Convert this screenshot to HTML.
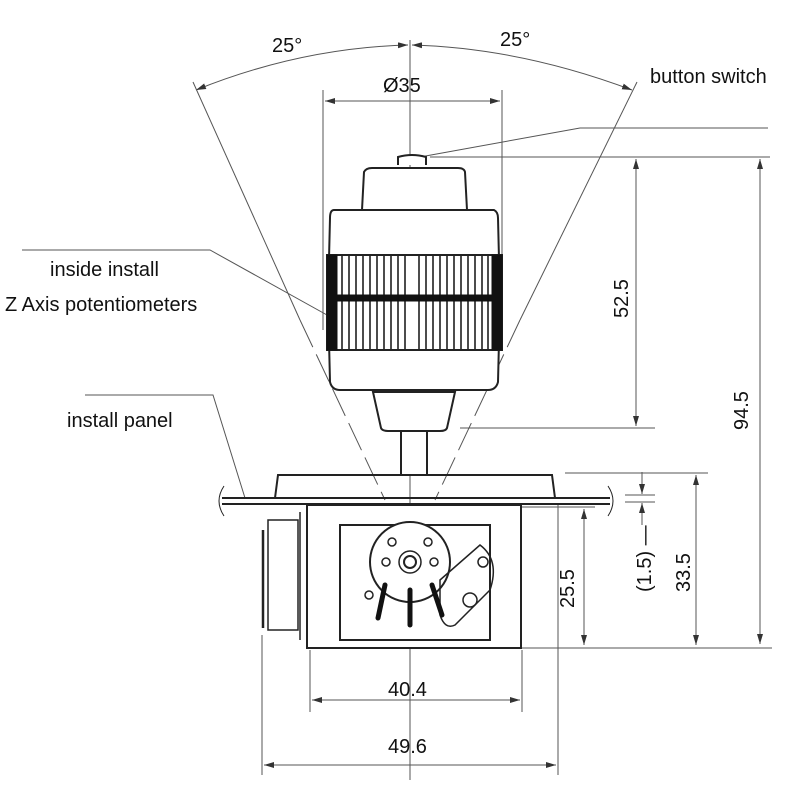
<!DOCTYPE html>
<html><head><style>body{margin:0;background:#fff}svg{display:block}</style></head><body>
<svg width="800" height="800" viewBox="0 0 800 800" xmlns="http://www.w3.org/2000/svg" font-family="Liberation Sans, sans-serif">
<defs>
<marker id="a" markerWidth="10" markerHeight="6" refX="10" refY="3" orient="auto-start-reverse" markerUnits="userSpaceOnUse"><path d="M0,0 L10,3 L0,6 z" fill="#333"/></marker>
</defs>
<g stroke="#555" stroke-width="1" fill="none">
<line x1="410" y1="40" x2="410" y2="780"/>
<path d="M196,90 Q300,48 408,45" marker-start="url(#a)" marker-end="url(#a)"/>
<path d="M412,45 Q520,48 632,90" marker-start="url(#a)" marker-end="url(#a)"/>
<line x1="193" y1="82" x2="300" y2="320"/>
<line x1="300" y1="320" x2="385" y2="500" stroke-dasharray="30,8"/>
<line x1="637" y1="82" x2="520" y2="320"/>
<line x1="520" y1="320" x2="435" y2="500" stroke-dasharray="30,8"/>
<line x1="323" y1="90" x2="323" y2="330"/>
<line x1="502" y1="90" x2="502" y2="330"/>
<line x1="325" y1="101" x2="500" y2="101" marker-start="url(#a)" marker-end="url(#a)"/>
<polyline points="420,157 580,128 768,128"/>
<line x1="430" y1="157" x2="770" y2="157"/>
<line x1="460" y1="428" x2="655" y2="428"/>
<line x1="636" y1="159" x2="636" y2="426" marker-start="url(#a)" marker-end="url(#a)"/>
<line x1="760" y1="159" x2="760" y2="644" marker-start="url(#a)" marker-end="url(#a)"/>
<line x1="520" y1="648" x2="772" y2="648"/>
<line x1="565" y1="473" x2="708" y2="473"/>
<line x1="696" y1="475" x2="696" y2="645" marker-start="url(#a)" marker-end="url(#a)"/>
<line x1="625" y1="495" x2="655" y2="495"/>
<line x1="625" y1="502" x2="655" y2="502"/>
<line x1="642" y1="472" x2="642" y2="494" marker-end="url(#a)"/>
<line x1="642" y1="525" x2="642" y2="503" marker-end="url(#a)"/>
<line x1="520" y1="507" x2="595" y2="507"/>
<line x1="584" y1="509" x2="584" y2="645" marker-start="url(#a)" marker-end="url(#a)"/>
<line x1="310" y1="650" x2="310" y2="712"/>
<line x1="522" y1="650" x2="522" y2="712"/>
<line x1="312" y1="700" x2="520" y2="700" marker-start="url(#a)" marker-end="url(#a)"/>
<line x1="262" y1="635" x2="262" y2="775"/>
<line x1="558" y1="505" x2="558" y2="775"/>
<line x1="264" y1="765" x2="556" y2="765" marker-start="url(#a)" marker-end="url(#a)"/>
<polyline points="22,250 210,250 345,325"/>
<polyline points="85,395 213,395 245,498"/>
</g>
<g stroke="#222" stroke-width="2" fill="#fff">
<path d="M398,165 L398,157 Q412,153 426,157 L426,165"/>
<path d="M362,210 L364,172 Q366,168 372,168 L458,168 Q464,168 465,172 L467,210 Z"/>
<path d="M334,210 L494,210 Q498,212 498,218 L500,300 L498,382 Q496,390 488,390 L340,390 Q332,390 330,382 L328,300 L330,218 Q330,210 334,210 Z"/>
<rect x="327" y="255" width="175" height="95" fill="#fff"/>
<path d="M373,392 L455,392 L447,428 Q446,431 440,431 L388,431 Q382,431 381,428 Z"/>
<rect x="401" y="431" width="26" height="44"/>
</g>
<g stroke="#111">
<rect x="327" y="255" width="10" height="95" fill="#111"/>
<rect x="492" y="255" width="10" height="95" fill="#111"/>
<rect x="327" y="295" width="175" height="6" fill="#111"/>
<path d="M342,256V349M349,256V349M356,256V349M363,256V349M370,256V349M377,256V349M384,256V349M391,256V349M398,256V349M405,256V349M419,256V349M426,256V349M433,256V349M440,256V349M447,256V349M454,256V349M461,256V349M468,256V349M475,256V349M482,256V349M488,256V349" stroke-width="1.5"/>
</g>
<g stroke="#222" stroke-width="2" fill="none">
<path d="M275,498 L278,475 L552,475 L555,498"/>
<line x1="222" y1="498" x2="610" y2="498"/>
<line x1="222" y1="504" x2="610" y2="504"/>
<path d="M224,486 Q214,501 224,516 M608,486 Q618,501 608,516" stroke-width="1"/>
<rect x="307" y="505" width="214" height="143" fill="#fff"/>
<rect x="340" y="525" width="150" height="115"/>
<rect x="268" y="520" width="30" height="110" stroke-width="1.5"/>
<line x1="263" y1="530" x2="263" y2="628" stroke-width="2.5"/>
<line x1="300" y1="512" x2="300" y2="640" stroke-width="1.5"/>
<circle cx="410" cy="562" r="40" fill="#fff"/>
<circle cx="410" cy="562" r="6"/>
<circle cx="410" cy="562" r="11" stroke-width="1.5"/>
<circle cx="392" cy="542" r="4" stroke-width="1.5"/>
<circle cx="428" cy="542" r="4" stroke-width="1.5"/>
<circle cx="386" cy="562" r="4" stroke-width="1.5"/>
<circle cx="434" cy="562" r="4" stroke-width="1.5"/>
<circle cx="369" cy="595" r="4" stroke-width="1.5"/>
<circle cx="483" cy="562" r="5" stroke-width="1.5"/>
<path d="M440,580 L480,545 Q500,560 490,590 L455,625 Q445,630 440,615 Z" stroke-width="1.5"/>
<circle cx="470" cy="600" r="7" stroke-width="1.5"/>
</g>
<g stroke="#111" stroke-width="5" stroke-linecap="round">
<line x1="385" y1="585" x2="378" y2="618"/>
<line x1="410" y1="590" x2="410" y2="625"/>
<line x1="432" y1="585" x2="442" y2="615"/>
</g>
<g fill="#111" font-size="20">
<text x="272" y="52">25°</text>
<text x="500" y="46">25°</text>
<text x="383" y="92">Ø35</text>
<text x="650" y="83">button switch</text>
<text x="50" y="276">inside install</text>
<text x="5" y="311">Z Axis potentiometers</text>
<text x="67" y="427">install panel</text>
<text x="388" y="696">40.4</text>
<text x="388" y="753">49.6</text>
<text transform="translate(628,318) rotate(-90)">52.5</text>
<text transform="translate(748,430) rotate(-90)">94.5</text>
<text transform="translate(574,608) rotate(-90)">25.5</text>
<text transform="translate(690,592) rotate(-90)">33.5</text>
<text transform="translate(651,592) rotate(-90)">(1.5) —</text>
</g>
</svg>
</body></html>
